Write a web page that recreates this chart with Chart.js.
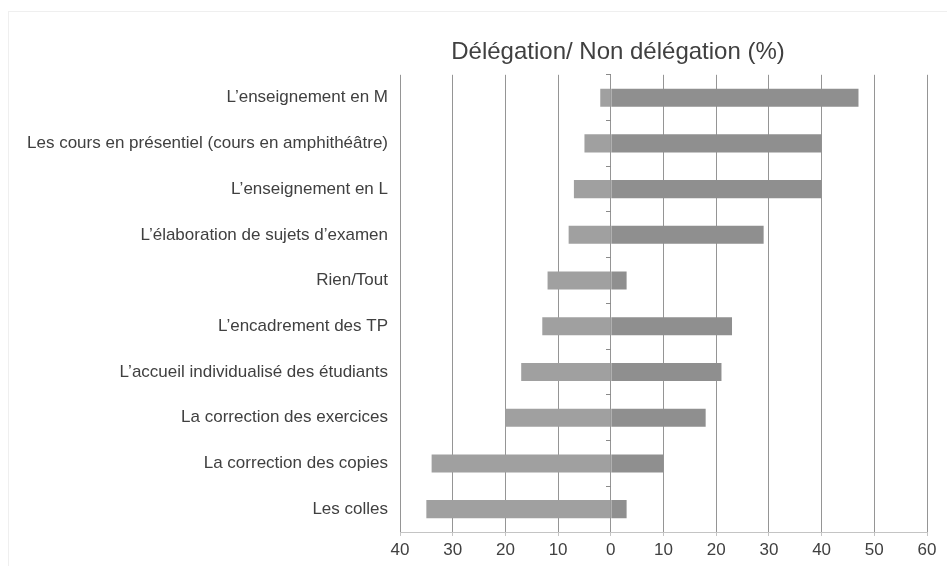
<!DOCTYPE html>
<html>
<head>
<meta charset="utf-8">
<script src="https://cdn.jsdelivr.net/npm/chart.js@4"></script>
<style>
  html, body { margin: 0; padding: 0; background: #ffffff; }
  #wrap { position: relative; width: 947px; height: 566px; overflow: hidden; }
  #frame { position: absolute; left: 8px; top: 11px; width: 2000px; height: 2000px;
           border-left: 1px solid #efefef; border-top: 1px solid #efefef; }
  #c { position: absolute; left: 0; top: 0; }
</style>
</head>
<body>
<div id="wrap">
  <div id="frame"></div>
  <canvas id="c" width="947" height="566"></canvas>
</div>
<script>
const categories = [
  "L’enseignement en M",
  "Les cours en présentiel (cours en amphithéâtre)",
  "L’enseignement en L",
  "L’élaboration de sujets d’examen",
  "Rien/Tout",
  "L’encadrement des TP",
  "L’accueil individualisé des étudiants",
  "La correction des exercices",
  "La correction des copies",
  "Les colles"
];
const nonDelegation = [-2, -5, -7, -8, -12, -13, -17, -20, -34, -35];
const delegation = [47, 40, 40, 29, 3, 23, 21, 18, 10, 3];
const titleText = "Délégation/ Non délégation (%)";

const FONT = "'Liberation Sans', Arial, sans-serif";

const titleShift = {
  id: 'titleShift',
  afterLayout(chart) {
    const t = chart.titleBlock;
    if (t) { const cx = 618; t.left = cx - 320; t.right = cx + 320; }
  }
};

new Chart(document.getElementById('c'), {
  type: 'bar',
  data: {
    labels: categories,
    datasets: [
      { label: 'Non délégation', data: nonDelegation, backgroundColor: '#a0a0a0', borderWidth: 0 },
      { label: 'Délégation', data: delegation, backgroundColor: '#8f8f8f', borderWidth: 0 }
    ]
  },
  plugins: [titleShift],
  options: {
    indexAxis: 'y',
    responsive: false,
    animation: false,
    devicePixelRatio: 1,
    categoryPercentage: 1,
    barPercentage: 0.395,
    layout: { padding: { left: 0, right: 20, top: 10, bottom: 0 } },
    plugins: {
      legend: { display: false },
      tooltip: { enabled: false },
      title: {
        display: true,
        text: titleText,
        color: '#404040',
        font: { family: FONT, size: 24, weight: 'normal' },
        padding: { top: 28, bottom: 8 }
      }
    },
    scales: {
      x: {
        stacked: true,
        min: -40, max: 60,
        ticks: {
          stepSize: 10,
          padding: 4,
          color: '#404040',
          font: { family: FONT, size: 17 },
          callback: (v) => Math.abs(v)
        },
        grid: { color: '#959595', tickColor: '#c4c4c4', tickLength: 4, drawTicks: true },
        border: { display: true, color: '#c4c4c4', width: 1 },
        afterFit: (s) => { s.height = 34; }
      },
      y: {
        stacked: true,
        offset: true,
        grid: { display: false, drawTicks: false },
        border: { display: false },
        ticks: {
          padding: 12,
          color: '#404040',
          font: { family: FONT, size: 17 }
        },
        afterFit: (s) => { s.width = 400; }
      },
      y2: {
        axis: 'y',
        type: 'category',
        position: { x: 0 },
        offset: true,
        grid: { offset: true, drawOnChartArea: false, drawTicks: true, tickLength: 5, color: '#8a8a8a', tickColor: '#8a8a8a' },
        border: { display: false },
        ticks: { display: false },
        afterFit: (s) => { s.width = 0; }
      }
    }
  }
});
</script>
</body>
</html>
